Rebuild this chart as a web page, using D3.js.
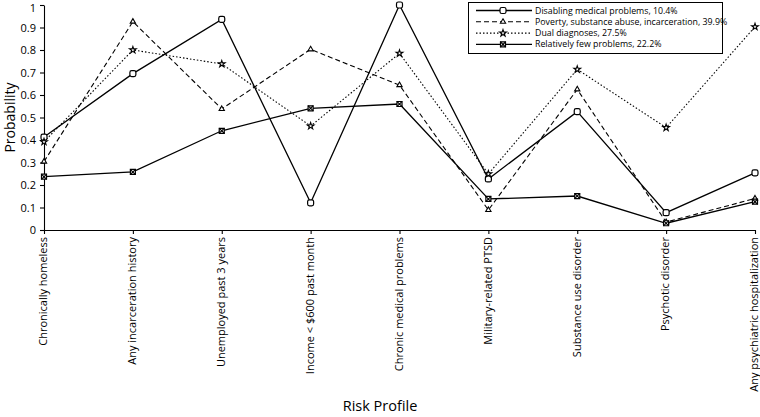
<!DOCTYPE html>
<html><head><meta charset="utf-8">
<script src="https://cdn.jsdelivr.net/npm/d3@7"></script>
<style>body{margin:0;background:#fff}svg{display:block}text{font-family:"Open Sans",sans-serif;fill:#000}</style>
</head><body>
<svg id="c" width="760" height="417"></svg>
<script>
const categories = ["Chronically homeless","Any incarceration history","Unemployed past 3 years","Income < $600 past month","Chronic medical problems","Military-related PTSD","Substance use disorder","Psychotic disorder","Any psychiatric hospitalization"];
const seriesNames = ["Disabling medical problems, 10.4%","Poverty, substance abuse, incarceration, 39.9%","Dual diagnoses, 27.5%","Relatively few problems, 22.2%"];
const disabling = [0.413,0.695,0.936,0.121,1.0,0.227,0.526,0.077,0.254];
const poverty   = [0.304,0.926,0.538,0.803,0.644,0.089,0.625,0.035,0.140];
const dual      = [0.392,0.800,0.738,0.462,0.785,0.249,0.714,0.455,0.903];
const fewProbs  = [0.237,0.258,0.441,0.541,0.560,0.138,0.151,0.030,0.126];
const yTicks = [0,0.1,0.2,0.3,0.4,0.5,0.6,0.7,0.8,0.9,1];
const yTickLabels = ["0","0.1","0.2","0.3","0.4","0.5","0.6","0.7","0.8","0.9","1"];

const series = [
  {name:seriesNames[0], values:disabling, dash:null, marker:"rsquare"},
  {name:seriesNames[1], values:poverty, dash:"5,3", marker:"triangle"},
  {name:seriesNames[2], values:dual, dash:"1.5,2", marker:"star"},
  {name:seriesNames[3], values:fewProbs, dash:null, marker:"xsquare"}
];

const svg = d3.select("#c");
const m = {l:44, r:5, t:5, b:187};
const W = 760, H = 417;
const x = d3.scalePoint().domain(categories).range([m.l, W-m.r]).padding(0);
const y = d3.scaleLinear().domain([0,1]).range([H-m.b, m.t]);

// axes
const yAx = svg.append("g").attr("transform",`translate(${m.l},0)`)
  .call(d3.axisLeft(y).tickValues(yTicks).tickFormat((d,i)=>yTickLabels[i]).tickSize(4).tickSizeOuter(0));
yAx.selectAll("text").attr("font-size","11px").attr("dx","-1")
  .attr("dy",(d)=> d===1 ? "0.6em" : "0.32em");
const xAx = svg.append("g").attr("transform",`translate(0,${H-m.b})`)
  .call(d3.axisBottom(x).tickSize(4).tickSizeOuter(0));
xAx.selectAll("text").attr("font-size","11px")
  .attr("transform","rotate(-90)").attr("text-anchor","end")
  .attr("x",-7).attr("y",-1).attr("dy","0.35em");
svg.selectAll(".domain,.tick line").attr("stroke","#000").attr("stroke-width",1.1);

svg.append("text").attr("transform",`translate(15,${(m.t+H-m.b)/2}) rotate(-90)`)
  .attr("text-anchor","middle").attr("font-size","14px").text("Probability");
svg.append("text").attr("x",380).attr("y",411).attr("text-anchor","middle")
  .attr("font-size","14.5px").text("Risk Profile");

function drawMarker(g, type, cx, cy){
  if(type==="rsquare"){
    g.append("rect").attr("x",cx-3).attr("y",cy-3).attr("width",6).attr("height",6).attr("rx",1.8)
      .attr("fill","#fff").attr("stroke","#000").attr("stroke-width",1.2);
  } else if(type==="triangle"){
    g.append("path").attr("d",d3.symbol(d3.symbolTriangle,12)()).attr("transform",`translate(${cx},${cy})`)
      .attr("fill","#fff").attr("stroke","#000").attr("stroke-width",1.1);
  } else if(type==="star"){
    g.append("path").attr("d",d3.symbol(d3.symbolStar,14)()).attr("transform",`translate(${cx},${cy})`)
      .attr("fill","#fff").attr("stroke","#000").attr("stroke-width",1.1);
  } else {
    g.append("path").attr("d",d3.symbol(d3.symbolSquare,25)()).attr("transform",`translate(${cx},${cy})`)
      .attr("fill","#fff").attr("stroke","#000").attr("stroke-width",1.2);
    g.append("path").attr("d",d3.symbol(d3.symbolTimes,20)()).attr("transform",`translate(${cx},${cy})`)
      .attr("fill","none").attr("stroke","#000").attr("stroke-width",1.1);
  }
}

const line = d3.line().x((d,i)=>x(categories[i])).y(d=>y(d));
series.forEach(s=>{
  svg.append("path").attr("d",line(s.values)).attr("fill","none").attr("stroke","#000")
    .attr("stroke-width", s.dash ? 1.1 : 1.3).attr("stroke-dasharray", s.dash);
});
series.forEach(s=>{
  const g = svg.append("g");
  s.values.forEach((v,i)=>drawMarker(g, s.marker, x(categories[i]), y(v)));
});

// legend
const lg = svg.append("g");
lg.append("rect").attr("x",468.5).attr("y",2.5).attr("width",254).attr("height",51)
  .attr("fill","#fff").attr("stroke","#000").attr("stroke-width",1);
series.forEach((s,i)=>{
  const yy = 10.5 + i*11.3;
  lg.append("line").attr("x1",476).attr("x2",532).attr("y1",yy).attr("y2",yy)
    .attr("stroke","#000").attr("stroke-width", s.dash?1.1:1.3).attr("stroke-dasharray",s.dash);
  drawMarker(lg, s.marker, 503, yy);
  lg.append("text").attr("x",535).attr("y",yy).attr("dy","0.35em").attr("font-size","8.8px").text(s.name);
});
</script>
</body></html>
